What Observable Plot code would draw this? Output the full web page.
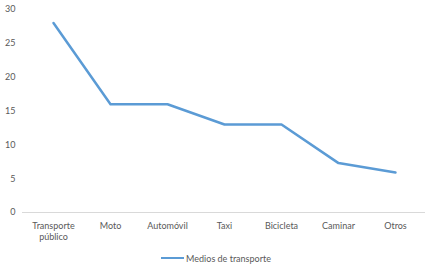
<!DOCTYPE html>
<html><head><meta charset="utf-8">
<script src="https://cdn.jsdelivr.net/npm/d3@7"></script>
<script src="https://cdn.jsdelivr.net/npm/@observablehq/plot@0.6"></script>
<style>
body{margin:0;background:#fff;font-family:Lato,"Open Sans",sans-serif;}
#legend{display:flex;justify-content:center;align-items:center;height:20px;font-size:9px;color:#595959;margin-top:3px;}
#legend span.sw{display:inline-block;width:23px;height:2.5px;background:#5b9bd5;margin-right:2px;}
</style></head>
<body>
<div id="chart"></div>
<div id="legend"><span class="sw"></span><span>Medios de transporte</span></div>
<script>
const categories = ["Transporte\npúblico","Moto","Automóvil","Taxi","Bicicleta","Caminar","Otros"];
const values = [28, 16, 16, 13, 13, 7.3, 5.9];
const yTicks = [0,5,10,15,20,25,30];
const seriesName = "Medios de transporte";

const data = categories.map((c,i)=>({cat:c, v:values[i]}));

const chart = Plot.plot({
  width: 432,
  height: 245,
  marginLeft: 22,
  marginRight: 7,
  marginTop: 9,
  marginBottom: 33,
  style: {fontFamily: "Lato, 'Open Sans', sans-serif", fontSize: "9px", color: "#595959", background: "#fff"},
  x: {type: "point", domain: categories, padding: 0.5, label: null},
  y: {domain: [0,30], label: null},
  marks: [
    Plot.ruleY([0], {stroke: "#d9d9d9", strokeWidth: 1}),
    Plot.axisY({ticks: yTicks, tickSize: 0, tickPadding: 7, label: null, fill: "#595959"}),
    Plot.axisX({tickSize: 0, tickPadding: 9, label: null, fill: "#595959", lineHeight: 1.2}),
    Plot.line(data, {x: "cat", y: "v", stroke: "#5b9bd5", strokeWidth: 2.5, strokeLinejoin: "round"})
  ]
});
document.getElementById("chart").appendChild(chart);
</script>
</body></html>
